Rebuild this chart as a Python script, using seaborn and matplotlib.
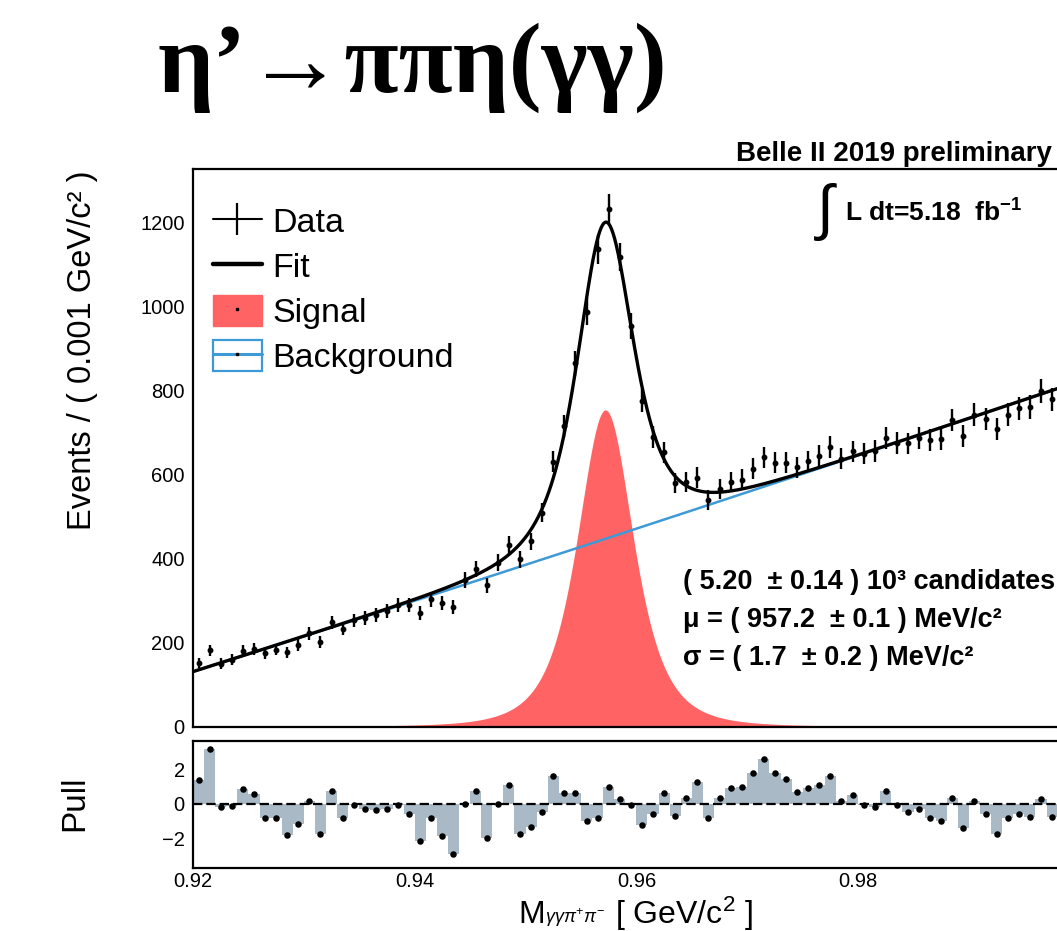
import numpy as np
import pandas as pd
import matplotlib
matplotlib.use("Agg")
import matplotlib.pyplot as plt
import seaborn as sns
from matplotlib.lines import Line2D
from matplotlib.patches import Patch
from matplotlib.legend_handler import HandlerTuple
from matplotlib.ticker import MultipleLocator

# ---- binned data (0.001 GeV bins starting at 0.920 GeV) ----
bin_start = 0.920
bin_width = 0.001
events = [151, 181, 150, 159, 180, 185, 174, 183, 177, 194,
          222, 202, 248, 233, 253, 258, 266, 275, 289, 289,
          270, 303, 294, 285, 349, 375, 336, 390, 432, 398,
          441, 509, 631, 716, 865, 988, 1136, 1233, 1118, 954,
          776, 689, 653, 579, 582, 593, 539, 566, 583, 588,
          614, 641, 628, 628, 617, 632, 644, 666, 638, 655,
          650, 656, 688, 675, 674, 687, 682, 685, 730, 692,
          743, 732, 709, 743, 758, 761, 799, 779]
pulls = [1.38, 3.16, -0.15, -0.11, 0.86, 0.60, -0.82, -0.82, -1.79, -1.14,
         0.15, -1.72, 0.77, -0.80, -0.06, -0.30, -0.34, -0.30, -0.04, -0.56,
         -2.13, -0.80, -1.83, -2.86, 0.00, 0.73, -1.98, 0.00, 1.10, -1.76,
         -1.33, -0.45, 1.61, 0.64, 0.64, -1.00, -0.79, 1.00, 0.30, -0.04,
         -1.20, -0.56, 0.64, -0.71, 0.34, 1.29, -0.82, 0.34, 0.92, 0.95,
         1.76, 2.62, 1.76, 1.44, 0.67, 0.92, 1.08, 1.63, 0.15, 0.49,
         -0.06, -0.15, 0.77, -0.06, -0.45, -0.30, -0.82, -1.00, 0.32, -1.38,
         0.15, -0.56, -1.72, -0.79, -0.56, -0.77, 0.26, -0.77]

# ---- fit result parameters ----
bkg_coeffs = [130.5, 8.38, 0.0034]      # polynomial in (m - 0.920) [MeV]
sig_peak = 754.0                        # events / bin at the peak
sig_mean = 0.9572                       # GeV
sig_width = 0.00466                     # GeV

x_ticks = [0.92, 0.94, 0.96, 0.98]
x_tick_labels = ["0.92", "0.94", "0.96", "0.98"]
pull_ticks = [-2, 0, 2]
pull_tick_labels = ["\u22122", "0", "2"]

RED = "#ff6363"
BLUE = "#3d9ad6"
PULL_FILL = "#a9b9c5"


def background(m):
    t = (m - bin_start) * 1000.0
    return bkg_coeffs[0] + bkg_coeffs[1] * t + bkg_coeffs[2] * t ** 2


def signal(m):
    u = ((m - sig_mean) / sig_width) ** 2
    return sig_peak / (1.0 + u) ** 2


sns.set_style("white")
plt.rcParams["font.family"] = ["Liberation Sans", "DejaVu Sans"]
plt.rcParams["mathtext.fontset"] = "custom"
plt.rcParams["mathtext.rm"] = "Liberation Sans"
plt.rcParams["mathtext.it"] = "Liberation Sans:italic"
plt.rcParams["mathtext.bf"] = "Liberation Sans:bold"
plt.rcParams["axes.linewidth"] = 1.6
plt.rcParams["axes.edgecolor"] = "black"
plt.rcParams["text.color"] = "black"
plt.rcParams["xtick.color"] = "black"
plt.rcParams["ytick.color"] = "black"

W, H = 1057, 931
fig = plt.figure(figsize=(W / 100, H / 100), dpi=100)

x_left, x_right = 193, 1079.8
ax = fig.add_axes([x_left / W, (H - 726.5) / H, (x_right - x_left) / W, (726.5 - 169.3) / H])
axp = fig.add_axes([x_left / W, (H - 868.3) / H, (x_right - x_left) / W, (868.3 - 741) / H])

centers = bin_start + bin_width * (np.arange(len(events)) + 0.5)
counts = np.array(events, dtype=float)
grid = np.linspace(0.92, 1.0, 1200)

curves = pd.DataFrame({
    "m": grid,
    "signal": signal(grid),
    "background": background(grid),
})
curves["fit"] = curves["signal"] + curves["background"]

# signal component
ax.fill_between(curves["m"], 0, curves["signal"], color=RED, linewidth=0, zorder=1)
# background component
sns.lineplot(data=curves, x="m", y="background", ax=ax, color=BLUE, lw=1.8,
             estimator=None, sort=False, zorder=2)
# total fit
sns.lineplot(data=curves, x="m", y="fit", ax=ax, color="black", lw=2.4,
             estimator=None, sort=False, zorder=3)
# data points
ax.errorbar(centers, counts, yerr=np.sqrt(counts), fmt="o", ms=3.2, color="black",
            elinewidth=1.7, capsize=0, zorder=4)

ax.set_xlim(0.92, 1.0)
ax.set_ylim(0, 1327)
ax.set_xlabel("")
ax.set_ylabel("")
ax.xaxis.set_major_locator(MultipleLocator(0.02))
ax.xaxis.set_minor_locator(MultipleLocator(0.005))
ax.yaxis.set_major_locator(MultipleLocator(200))
ax.yaxis.set_minor_locator(MultipleLocator(50))
ax.tick_params(axis="both", which="both", direction="in", top=False, right=False,
               width=1.5, labelsize=14.5, colors="black")
ax.tick_params(axis="y", which="major", length=19, pad=6)
ax.tick_params(axis="y", which="minor", length=8.5)
ax.tick_params(axis="x", which="major", length=14, labelbottom=False)
ax.tick_params(axis="x", which="minor", length=6)

# legend (overlaid handle parts)
dot = dict(color="black", marker="s", ms=1.8, ls="none")
data_h = (Line2D([], [], color="black", lw=1.5),
          Line2D([], [], color="black", marker="|", ms=23, mew=1.6, ls="none"))
fit_h = Line2D([], [], color="black", lw=3.2)
sig_h = (Patch(facecolor=RED, edgecolor=RED), Line2D([], [], **dot))
bkg_h = (Patch(facecolor="white", edgecolor=BLUE, lw=1.6),
         Line2D([], [], color=BLUE, lw=2.2),
         Line2D([], [], **dot))
ax.legend([data_h, fit_h, sig_h, bkg_h], ["Data", "Fit", "Signal", "Background"],
          handler_map={tuple: HandlerTuple(ndivide=1, pad=0)},
          loc="upper left", bbox_to_anchor=(212.7 / W, 1 - 205 / H),
          bbox_transform=fig.transFigure, frameon=False, fontsize=24.5,
          handlelength=1.45, handleheight=1.05, labelspacing=0.31,
          handletextpad=0.3, borderpad=0, borderaxespad=0)

# pull panel
axp.bar(centers, pulls, width=bin_width, color=PULL_FILL, linewidth=0, zorder=1)
axp.axhline(0, color="black", lw=1.6, ls=(0, (4.2, 1.8)), zorder=2)
sns.scatterplot(x=centers, y=pulls, ax=axp, color="black", s=22, linewidth=0, zorder=3)
axp.set_xlim(0.92, 1.0)
axp.set_ylim(-3.71, 3.63)
axp.set_xticks(x_ticks)
axp.set_xticklabels(x_tick_labels)
axp.xaxis.set_minor_locator(MultipleLocator(0.005))
axp.set_yticks(pull_ticks)
axp.set_yticklabels(pull_tick_labels)
axp.yaxis.set_minor_locator(MultipleLocator(0.5))
axp.tick_params(axis="both", which="both", direction="in", top=False, right=False,
                width=1.5, labelsize=14.5, colors="black")
axp.tick_params(axis="y", which="major", length=21, pad=6)
axp.tick_params(axis="y", which="minor", length=12)
axp.tick_params(axis="x", which="major", length=16, pad=3)
axp.tick_params(axis="x", which="minor", length=7)

# titles and annotations
fig.text(412 / W, 1 - 68 / H, "\u03b7\u2019\u2192\u03c0\u03c0\u03b7(\u03b3\u03b3)",
         fontsize=71, fontweight="bold", family=["Liberation Serif", "DejaVu Serif"],
         ha="center", va="center")
fig.text(1052 / W, 1 - 154 / H, "Belle II 2019 preliminary", fontsize=20,
         fontweight="bold", ha="right", va="center")
fig.text(826 / W, 1 - 212 / H, r"$\int$", fontsize=44, ha="center", va="center")
fig.text(845 / W, 1 - 213 / H, r"L dt=5.18  fb$^{\mathbf{-1}}$", fontsize=19,
         fontweight="bold", ha="left", va="center")

stat_lines = ["( 5.20  \u00b1 0.14 ) 10\u00b3 candidates",
              "\u03bc = ( 957.2  \u00b1 0.1 ) MeV/c\u00b2",
              "\u03c3 = ( 1.7  \u00b1 0.2 ) MeV/c\u00b2"]
for k, line in enumerate(stat_lines):
    fig.text(683 / W, 1 - (582 + 38 * k) / H, line, fontsize=19.5, fontweight="bold",
             ha="left", va="center")

fig.text(83 / W, 1 - 350 / H, "Events / ( 0.001 GeV/c\u00b2 )", rotation=90,
         fontsize=23.5, ha="center", va="center")
fig.text(75 / W, 1 - 803 / H, "Pull", rotation=90, fontsize=24, ha="center", va="center")

# x-axis title: mass symbol, small subscript, unit
fig.text(518 / W, 1 - 923 / H, "M", fontsize=23, ha="left", va="baseline")
fig.text(545 / W, 1 - 929 / H, r"$\gamma\gamma\pi^{+}\pi^{-}$", fontsize=13,
         ha="left", va="bottom")
fig.text(615 / W, 1 - 924 / H, "[ GeV/c$^{2}$ ]", fontsize=23, ha="left", va="baseline")

fig.savefig("out.png", dpi=100)
